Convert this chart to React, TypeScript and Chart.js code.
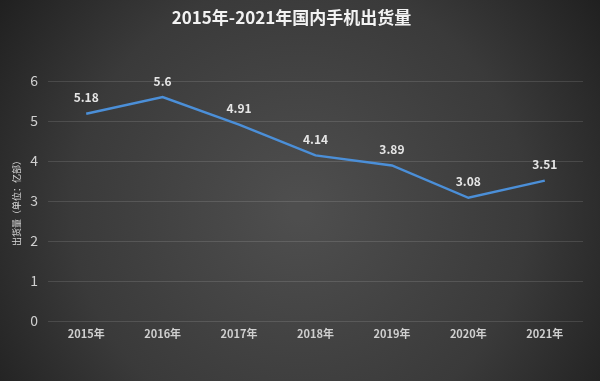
import React, { useEffect, useRef } from "react";
import { Chart, registerables } from "chart.js";

Chart.register(...registerables);

const categories = ["2015年", "2016年", "2017年", "2018年", "2019年", "2020年", "2021年"];
const shipments = [5.18, 5.6, 4.91, 4.14, 3.89, 3.08, 3.51];
const valueLabels = ["5.18", "5.6", "4.91", "4.14", "3.89", "3.08", "3.51"];
const yTicks = [0, 1, 2, 3, 4, 5, 6];

const FONT = "'Noto Sans CJK SC', 'Noto Sans', sans-serif";

const bgPlugin = {
  id: "bg",
  beforeDraw(chart: any) {
    const { ctx, width, height } = chart;
    ctx.save();
    const g = ctx.createRadialGradient(width / 2, height * 0.55, 10, width / 2, height * 0.55, width * 0.62);
    g.addColorStop(0, "#4e4e4e");
    g.addColorStop(0.6, "#3a3a3a");
    g.addColorStop(1, "#1f1f1f");
    ctx.fillStyle = g;
    ctx.fillRect(0, 0, width, height);
    ctx.restore();
  },
};

const labelPlugin = {
  id: "valueLabels",
  afterDatasetsDraw(chart: any) {
    const { ctx } = chart;
    const meta = chart.getDatasetMeta(0);
    ctx.save();
    ctx.font = `bold 12px ${FONT}`;
    ctx.fillStyle = "#e6e6e6";
    ctx.textAlign = "center";
    ctx.textBaseline = "middle";
    meta.data.forEach((pt: any, i: number) => {
      ctx.fillText(valueLabels[i], pt.x, pt.y - 16);
    });
    ctx.restore();
  },
};

export default function App() {
  const ref = useRef<HTMLCanvasElement>(null);
  useEffect(() => {
    document.body.style.margin = "0";
    const chart = new Chart(ref.current!, {
      type: "line",
      data: {
        labels: categories,
        datasets: [
          {
            data: shipments,
            borderColor: "#4b8fd8",
            borderWidth: 2.5,
            pointRadius: 0,
            tension: 0,
            fill: false,
          },
        ],
      },
      options: {
        animation: false,
        responsive: false,
        layout: { padding: { left: 0, right: 17, top: 0, bottom: 0 } },
        plugins: {
          legend: { display: false },
          tooltip: { enabled: false },
          title: {
            display: true,
            text: "2015年-2021年国内手机出货量",
            color: "#f2f2f2",
            font: { family: FONT, size: 17, weight: "bold" },
            padding: { top: 7, bottom: 53.6 },
          },
        },
        scales: {
          x: {
            offset: true,
            grid: { display: false, drawTicks: false },
            border: { display: false },
            ticks: {
              color: "#cfcfcf",
              font: { family: FONT, size: 11, weight: "bold" },
              padding: 6,
              maxRotation: 0,
            },
            afterFit(s: any) {
              s.height = 60;
            },
          },
          y: {
            min: 0,
            max: 6,
            afterBuildTicks(s: any) {
              s.ticks = yTicks.map((v) => ({ value: v }));
            },
            grid: { color: "rgba(255,255,255,0.12)", drawTicks: false, lineWidth: 1 },
            border: { display: false },
            ticks: {
              color: "#d0d0d0",
              font: { family: FONT, size: 14 },
              padding: 10,
            },
            title: {
              display: true,
              text: "出货量（单位：亿部）",
              color: "#d8d8d8",
              font: { family: FONT, size: 9 },
              padding: { top: 11, bottom: 0 },
            },
            afterFit(s: any) {
              s.width = 48;
            },
          },
        },
      },
      plugins: [bgPlugin, labelPlugin],
    });
    return () => chart.destroy();
  }, []);
  return <canvas ref={ref} width={600} height={381} style={{ display: "block" }} />;
}
